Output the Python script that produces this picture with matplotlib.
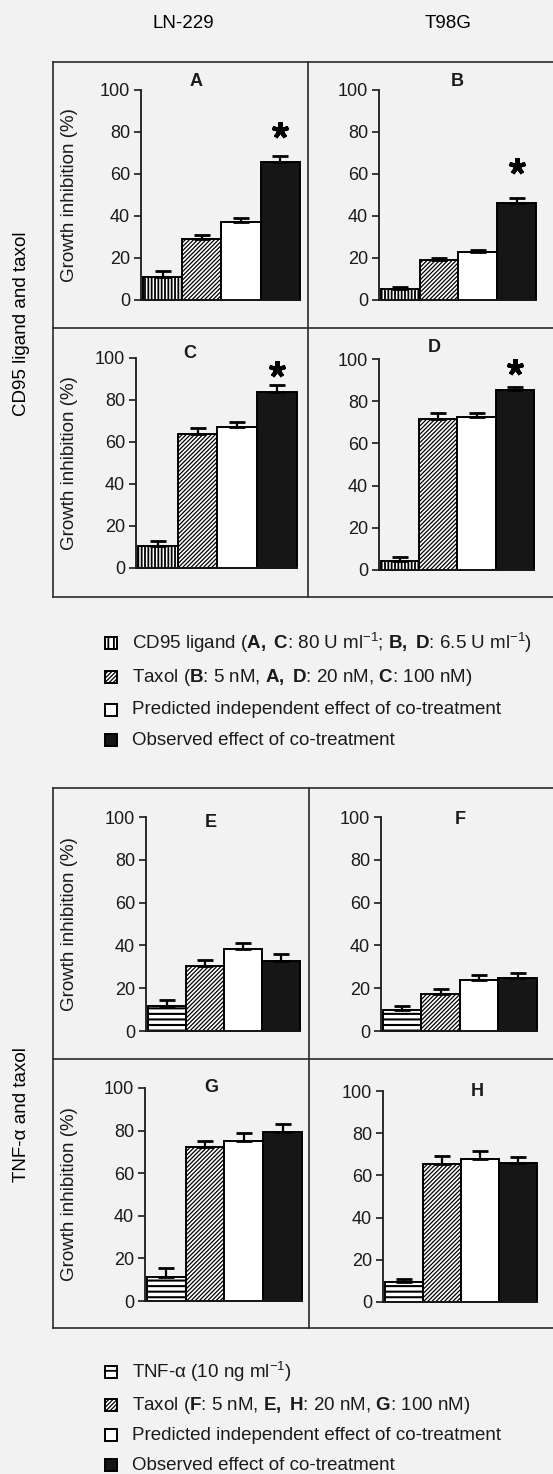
import matplotlib.pyplot as plt
from matplotlib.lines import Line2D
from matplotlib.patches import Rectangle
import numpy as np

plt.rcParams['font.family'] = ['Liberation Sans', 'DejaVu Sans']
plt.rcParams['mathtext.fontset'] = 'custom'
plt.rcParams['mathtext.rm'] = 'Liberation Sans'
plt.rcParams['mathtext.bf'] = 'Liberation Sans:bold'
plt.rcParams['mathtext.it'] = 'Liberation Sans:italic'
plt.rcParams['mathtext.default'] = 'regular'
plt.rcParams['hatch.linewidth'] = 1.2
plt.rcParams['hatch.color'] = 'black'

# data (growth inhibition, %)
cell_lines = ['LN-229', 'T98G']
row_labels = ['CD95 ligand and taxol', 'TNF-\u03b1 and taxol']
panels = ['A', 'B', 'C', 'D', 'E', 'F', 'G', 'H']
agent = [11.0, 5.2, 10.6, 4.4, 11.8, 9.8, 11.4, 9.3]          # CD95 ligand / TNF-a
agent_err = [2.8, 1.0, 2.3, 1.9, 2.6, 1.8, 4.0, 1.7]
taxol = [29.0, 19.0, 63.8, 71.4, 30.4, 17.5, 72.3, 65.3]
taxol_err = [2.0, 1.0, 2.9, 3.2, 2.9, 1.9, 3.0, 3.9]
predicted = [37.0, 23.0, 67.3, 72.4, 38.5, 24.0, 75.3, 67.9]
predicted_err = [2.0, 1.0, 2.4, 1.9, 2.5, 2.4, 3.6, 3.9]
observed = [65.7, 46.0, 84.0, 85.2, 32.6, 24.6, 79.4, 66.0]
observed_err = [2.9, 2.6, 3.0, 1.5, 3.5, 2.5, 3.7, 2.8]
star_y = [81, 64, 95, 96, None, None, None, None]   # significant panels

legend_top = [
    r'CD95 ligand ($\mathbf{A,\ C}$: 80 U ml$^{-1}$; $\mathbf{B,\ D}$: 6.5 U ml$^{-1}$)',
    r'Taxol ($\mathbf{B}$: 5 nM, $\mathbf{A,\ D}$: 20 nM, $\mathbf{C}$: 100 nM)',
    'Predicted independent effect of co-treatment',
    'Observed effect of co-treatment',
]
legend_bottom = [
    r'TNF-$\alpha$ (10 ng ml$^{-1}$)',
    r'Taxol ($\mathbf{F}$: 5 nM, $\mathbf{E,\ H}$: 20 nM, $\mathbf{G}$: 100 nM)',
    'Predicted independent effect of co-treatment',
    'Observed effect of co-treatment',
]

W, H = 553, 1474
BG = '#f2f2f2'
fig = plt.figure(figsize=(W / 100, H / 100), dpi=100, facecolor=BG)

# axes boxes in pixels: left, right, top(100), bottom(0)
boxes = {
    'A': (141, 300, 90, 300), 'B': (379, 536, 90, 300),
    'C': (136, 297, 358, 568), 'D': (379, 534, 359, 570),
    'E': (146, 300, 817, 1031), 'F': (381, 537, 817, 1031),
    'G': (145, 302, 1088, 1301), 'H': (383, 537, 1091, 1302),
}
letter_pos = {
    'A': (196, 82), 'B': (457, 82), 'C': (190, 353), 'D': (434, 347),
    'E': (211, 823), 'F': (460, 820), 'G': (211, 1088), 'H': (477, 1092),
}

# fill, hatch, hatch linewidth
styles = [
    ('white', '|||||', 1.3),
    ('white', '////////', 0.9),
    ('white', None, 1.0),
    ('#161616', None, 1.0),
]
tnf_style = ('white', '---', 1.5)


def fx(x):
    return x / W


def fy(y):
    return 1 - y / H


for i, p in enumerate(panels):
    l, r, t, b = boxes[p]
    ax = fig.add_axes([fx(l), fy(b), (r - l) / W, (b - t) / H])
    ax.patch.set_visible(False)
    vals = [agent[i], taxol[i], predicted[i], observed[i]]
    errs = [agent_err[i], taxol_err[i], predicted_err[i], observed_err[i]]
    x = np.arange(4)
    for j in range(4):
        fc, hatch, hlw = styles[j]
        if j == 0 and i >= 4:
            fc, hatch, hlw = tnf_style
        with plt.rc_context({'hatch.linewidth': hlw}):
            ax.bar(x[j], vals[j], width=1.0, color=fc, hatch=hatch,
                   edgecolor='black', linewidth=1.4, zorder=2, clip_on=False)
    ax.errorbar(x, vals, yerr=[np.zeros(4), errs], fmt='none', ecolor='black',
                elinewidth=1.6, capsize=6, capthick=2.0, zorder=3, clip_on=False)
    if star_y[i] is not None:
        ax.plot(3, star_y[i], marker=(5, 2, 0), markersize=12, mew=3.0,
                color='black', clip_on=False)
    ax.set_xlim(-0.55, 3.5)
    ax.set_ylim(0, 100)
    ax.set_yticks([0, 20, 40, 60, 80, 100])
    ax.set_xticks([])
    ax.tick_params(axis='y', direction='out', length=5, width=1.2, labelsize=13,
                   pad=3, colors='#1a1a1a')
    for s in ['top', 'right']:
        ax.spines[s].set_visible(False)
    for s in ['left', 'bottom']:
        ax.spines[s].set_linewidth(1.3)
        ax.spines[s].set_color('#1a1a1a')
    if i % 2 == 0:
        ax.set_ylabel('Growth inhibition (%)', fontsize=13.5, color='#1a1a1a')
        ax.yaxis.set_label_coords((78 - l) / (r - l), 0.5)
    lx, ly = letter_pos[p]
    fig.text(fx(lx), fy(ly), p, fontsize=13, fontweight='bold',
             ha='center', va='center', color='#1a1a1a')

# column headers and row labels
fig.text(fx(183), fy(23), cell_lines[0], fontsize=13.5, ha='center', va='center')
fig.text(fx(448), fy(23), cell_lines[1], fontsize=13.5, ha='center', va='center')
fig.text(fx(22), fy(324), row_labels[0], fontsize=13.5, rotation=90,
         ha='center', va='center')
fig.text(fx(22), fy(1115), row_labels[1], fontsize=13.5, rotation=90,
         ha='center', va='center')


# frame lines
def hline(y, x0, x1):
    fig.add_artist(Line2D([fx(x0), fx(x1)], [fy(y), fy(y)], color='#2a2a2a', lw=1.2))


def vline(x, y0, y1):
    fig.add_artist(Line2D([fx(x), fx(x)], [fy(y0), fy(y1)], color='#2a2a2a', lw=1.2))


for top, mid, bot, xm in [(62, 328, 597, 308), (788, 1059, 1328, 309)]:
    hline(top, 53, W)
    hline(mid, 53, W)
    hline(bot, 53, W)
    vline(53, top, bot)
    vline(xm, top, bot)


# legends
def legend(rows, labels, first_style):
    for k, (y, lab) in enumerate(zip(rows, labels)):
        fc, hatch, hlw = first_style if k == 0 else styles[k]
        with plt.rc_context({'hatch.linewidth': hlw}):
            fig.add_artist(Rectangle((fx(105), fy(y + 6)), 12 / W, 12 / H,
                                     transform=fig.transFigure, facecolor=fc,
                                     hatch=hatch, edgecolor='black', lw=1.4))
        fig.text(fx(132), fy(y), lab, fontsize=13.5, ha='left', va='center',
                 color='#1a1a1a')


legend([643, 677, 710, 740], legend_top, ('white', '|||', 1.3))
legend([1372, 1405, 1435, 1465], legend_bottom, ('white', '--', 1.3))

fig.savefig('out.png', dpi=100, facecolor=BG)
